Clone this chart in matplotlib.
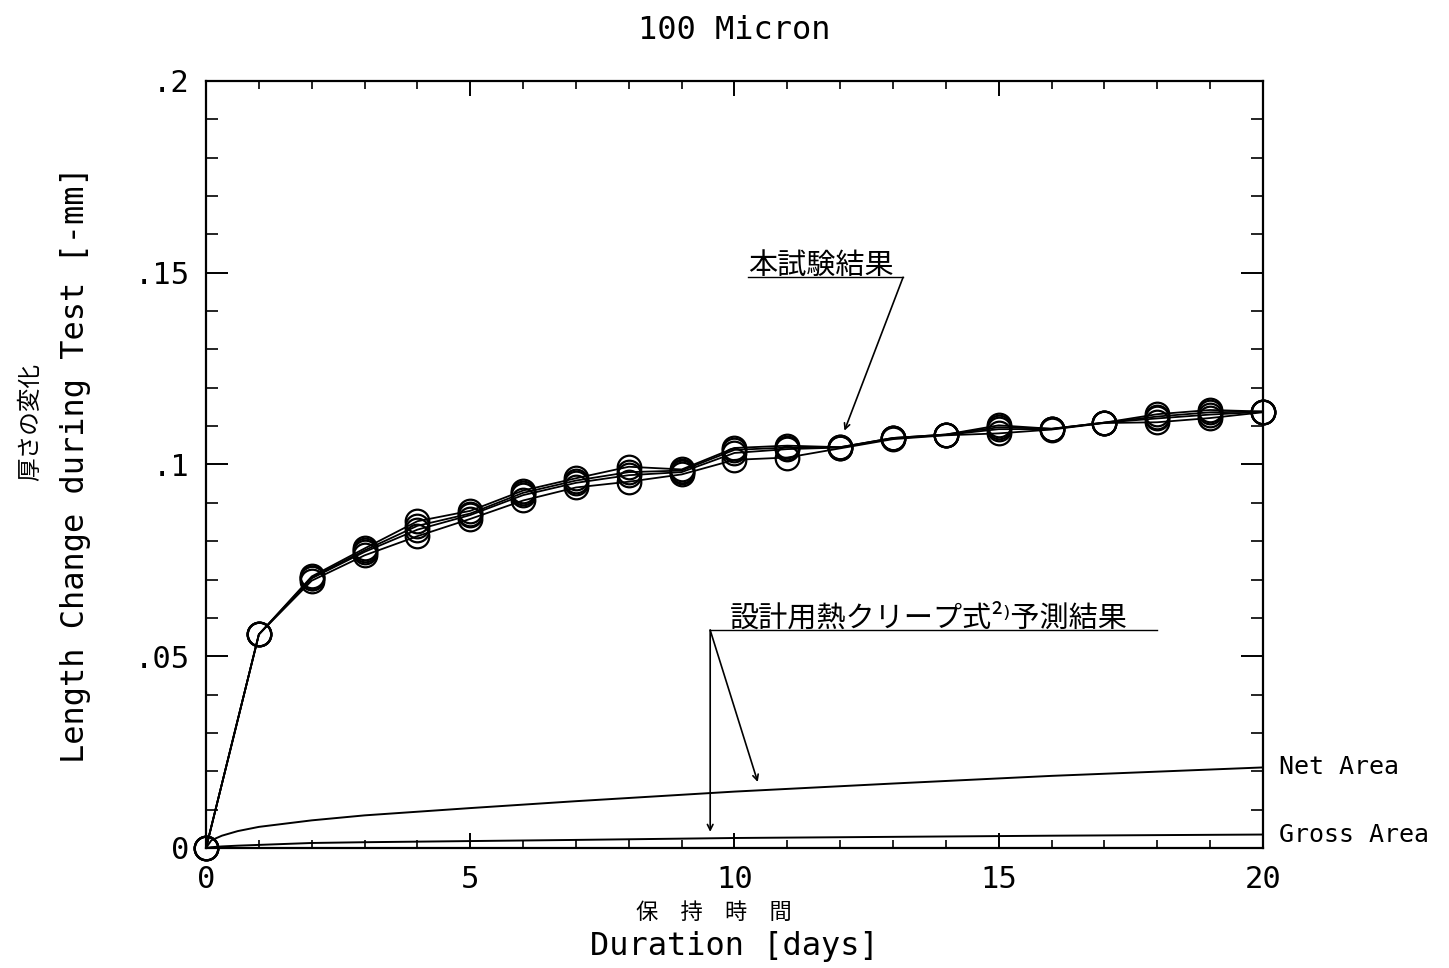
import numpy as np
import matplotlib
matplotlib.use("Agg")
import matplotlib.pyplot as plt
from matplotlib.ticker import MultipleLocator

# holding time [days] for the measured points
days = list(range(21))

# thickness change of the four test pieces [-mm]
run_a = [0, .0557, .0708, .0781, .0852, .0879, .0932, .0964, .0994, .0987, .1043,
         .1049, .1045, .1069, .1078, .1102, .1093, .1109, .1131, .1142, .1138]
run_b = [0, .0557, .0697, .0763, .0813, .0858, .0906, .0940, .0955, .0974, .1012,
         .1018, .1042, .1066, .1076, .1081, .1091, .1108, .1110, .1121, .1136]
run_c = [0, .0557, .0703, .0772, .0830, .0868, .0920, .0952, .0972, .0980, .1030,
         .1040, .1044, .1068, .1077, .1092, .1092, .1109, .1120, .1130, .1137]
run_d = [0, .0557, .0705, .0776, .0840, .0872, .0926, .0958, .0980, .0984, .1038,
         .1044, .1045, .1069, .1078, .1097, .1093, .1109, .1125, .1136, .1138]
runs = [run_a, run_b, run_c, run_d]

# creep equation prediction, net and gross section
pred_days = [0, 0.1, 0.3, 0.6, 1, 2, 3, 5, 7, 10, 13, 16, 20]
net_area = [0, .0020, .0032, .0044, .0055, .0072, .0085, .0104, .0122, .0147,
            .0168, .0188, .0210]
gross_area = [0, .0002, .0004, .0006, .0008, .0013, .0015, .0018, .0021, .0026,
              .0029, .0032, .0035]

ytick_vals = [0, .05, .1, .15, .2]
ytick_text = ["0", ".05", ".1", ".15", ".2"]
xtick_vals = [0, 5, 10, 15, 20]

mono = "DejaVu Sans Mono"
jp = ["Noto Sans CJK JP", "DejaVu Sans"]

fig = plt.figure(figsize=(14.49, 9.68), dpi=100)
ax = fig.add_axes([0.1422, 0.124, 0.7294, 0.7924])

for r in runs:
    ax.plot(days, r, color="black", lw=1.3, marker="o", ms=17, mfc="none",
            mec="black", mew=1.6, clip_on=False, zorder=3)

ax.plot(pred_days, net_area, color="black", lw=1.4)
ax.plot(pred_days, gross_area, color="black", lw=1.4)

ax.set_xlim(0, 20)
ax.set_ylim(0, 0.2)
ax.set_xticks(xtick_vals)
ax.set_xticklabels([str(v) for v in xtick_vals], family=mono, fontsize=22)
ax.set_yticks(ytick_vals)
ax.set_yticklabels(ytick_text, family=mono, fontsize=22)
ax.xaxis.set_minor_locator(MultipleLocator(1))
ax.yaxis.set_minor_locator(MultipleLocator(0.01))
ax.tick_params(axis="x", which="major", direction="in", length=11, width=1.4,
               top=True, pad=12)
ax.tick_params(axis="x", which="minor", direction="in", length=6, width=1.2,
               top=True)
ax.tick_params(axis="y", which="major", direction="in", length=16, width=1.4,
               right=True, pad=12)
ax.tick_params(axis="y", which="minor", direction="in", length=8.5, width=1.2,
               right=True)
for s in ax.spines.values():
    s.set_linewidth(1.6)

# labels
fig.text(0.507, 0.968, "100 Micron", family=mono, fontsize=23,
         ha="center", va="center")
fig.text(0.493, 0.057, "保\u3000持\u3000時\u3000間", family=jp, fontsize=16,
         ha="center", va="center")
fig.text(0.507, 0.022, "Duration [days]", family=mono, fontsize=23,
         ha="center", va="center")
fig.text(0.052, 0.52, "Length Change during Test [-mm]", family=mono,
         fontsize=23, rotation=90, ha="center", va="center")
fig.text(0.021, 0.564, "厚さの変化", family=jp, fontsize=17, rotation=90,
         ha="center", va="center")

# curve names at the right edge
ax.text(20.3, net_area[-1], "Net Area", family=mono, fontsize=18,
        ha="left", va="center", clip_on=False)
ax.text(20.3, gross_area[-1], "Gross Area", family=mono, fontsize=18,
        ha="left", va="center", clip_on=False)

# callout for the test results
ax.text(10.26, 0.1478, "本試験結果", family=jp, fontsize=21, ha="left",
        va="bottom")
ax.plot([10.26, 13.19], [0.1488, 0.1488], color="black", lw=1.0)
ax.annotate("", xy=(12.08, 0.1088), xytext=(13.19, 0.1488),
            arrowprops=dict(arrowstyle="->", lw=1.2, color="black",
                            shrinkA=0, shrinkB=0))

# callout for the creep equation prediction
ax.text(9.91, 0.0558, "設計用熱クリープ式²⁾予測結果", family=jp, fontsize=21,
        ha="left", va="bottom")
ax.plot([9.54, 18.0], [0.0568, 0.0568], color="black", lw=1.0)
ax.annotate("", xy=(10.44, 0.0172), xytext=(9.54, 0.0568),
            arrowprops=dict(arrowstyle="->", lw=1.2, color="black",
                            shrinkA=0, shrinkB=0))
ax.annotate("", xy=(9.54, 0.0042), xytext=(9.54, 0.0568),
            arrowprops=dict(arrowstyle="->", lw=1.2, color="black",
                            shrinkA=0, shrinkB=0))

fig.savefig("out.png", dpi=100)
